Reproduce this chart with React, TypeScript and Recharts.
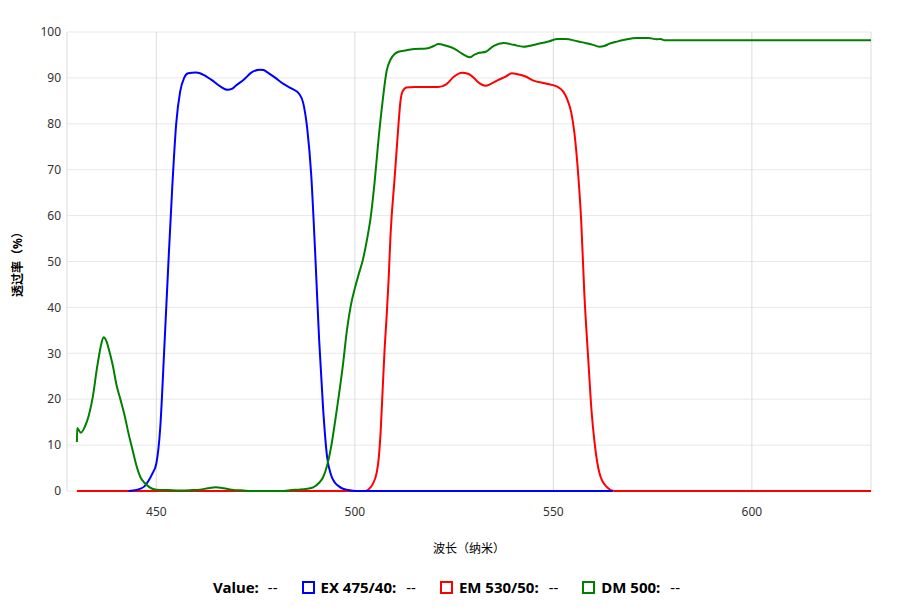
import React from 'react';
import {
  LineChart,
  Line,
  XAxis,
  YAxis,
  CartesianGrid,
  Legend,
} from 'recharts';

// ============================================================================
// Data (wavelength in nm, transmission in %)
// ============================================================================

const X_TICKS = [450, 500, 550, 600];
const Y_TICKS = [0, 10, 20, 30, 40, 50, 60, 70, 80, 90, 100];

const EX_WAVELENGTH = [
  443, 445, 446, 447, 448, 449, 450, 451, 452, 453, 454, 455, 456, 457, 458,
  460, 461, 462, 464, 466, 468, 469, 470, 472, 474, 476, 477, 478, 480, 482,
  484, 486, 487, 488, 489, 490, 491, 492, 493, 494, 495, 496, 497, 498, 499,
  500, 565,
];
const EX_VALUES = [
  0, 0.2, 0.5, 1, 2.2, 3.8, 6, 14, 31, 49, 66, 80, 87, 90, 91,
  91.2, 91, 90.6, 89.5, 88.2, 87.4, 87.6, 88.3, 89.6, 91.2, 91.8, 91.7, 91.2, 90, 88.7,
  87.7, 86.5, 84.5, 79, 69, 52, 33, 18, 7.5, 3.5, 1.8, 1, 0.5, 0.3, 0.1,
  0, 0,
];

const EM_WAVELENGTH = [
  430, 502.5, 503.5, 504.5, 505.5, 506, 506.5, 507, 507.5, 508, 508.5, 509, 510,
  510.5, 511, 511.5, 512, 513, 515, 518, 521, 523, 525, 527, 528.5, 530, 531,
  533, 534, 536, 538, 539.5, 541, 543, 545, 548, 551, 552.5, 553.5, 554.5,
  555.3, 556.3, 557, 557.8, 558.8, 559.6, 560.4, 561.6, 563.3, 565.4, 630,
];
const EM_VALUES = [
  0, 0, 0.4, 1.5, 4, 7, 13, 22, 31, 38, 46, 56, 68,
  74, 80, 85, 87, 87.9, 88, 88, 88, 88.6, 90.3, 91.1, 90.9, 90, 89.1,
  88.3, 88.6, 89.5, 90.3, 91, 90.8, 90.3, 89.4, 88.8, 88.1, 87, 85.3, 82.5,
  78, 68.4, 59, 43, 28.5, 17.6, 10.4, 3.9, 1, 0, 0,
];

const DM_WAVELENGTH = [
  430, 430.05, 431, 432, 433, 434, 435, 436, 436.7, 437.5, 438, 439, 440, 441,
  442, 443, 444, 445, 446, 447, 448, 449, 450, 453, 456, 459, 461, 463, 465,
  467, 469, 472, 474, 482, 484, 486, 488, 489.5, 491, 492, 493, 494, 495, 496,
  497, 498, 499, 500, 501, 502, 503, 504, 505, 506, 507, 508, 509, 510, 511,
  513, 515, 518, 520, 521, 523, 525, 527, 529, 530, 531, 533, 535, 537.5, 540,
  542.5, 546, 549, 551, 553, 556, 558, 560, 561.5, 563, 564, 566, 568, 571,
  574, 576, 577, 578, 630,
];
const DM_VALUES = [
  10.7, 13.7, 12.7, 14, 16.5, 20.5, 26.5, 31.5, 33.5, 32.5, 31, 27.5, 23, 19.8,
  16.5, 12.5, 9, 5.5, 3, 1.8, 1, 0.5, 0.3, 0.2, 0.1, 0.2, 0.3, 0.6, 0.8,
  0.6, 0.3, 0.1, 0, 0, 0.2, 0.3, 0.5, 0.8, 1.8, 3, 5.5, 9.5, 15, 21,
  27.5, 35, 40.5, 44.2, 47.3, 50.3, 54.5, 59.7, 67.5, 77, 85, 91.5, 94, 95.2, 95.7,
  96, 96.3, 96.4, 97, 97.4, 97, 96.4, 95.3, 94.5, 95, 95.4, 95.7, 97, 97.6, 97.2,
  96.8, 97.4, 98, 98.5, 98.5, 98, 97.6, 97.2, 96.8, 97, 97.4, 97.9, 98.3, 98.7,
  98.7, 98.4, 98.5, 98.2, 98.2,
];

// ============================================================================
// Series
// ============================================================================

const toPoints = (xs: number[], ys: number[]) =>
  xs.map((x, i) => ({ x, y: ys[i] }));

const SERIES = [
  { name: 'EX 475/40', color: '#0000ff', data: toPoints(EX_WAVELENGTH, EX_VALUES) },
  { name: 'EM 530/50', color: '#ff0000', data: toPoints(EM_WAVELENGTH, EM_VALUES) },
  { name: 'DM 500', color: '#008000', data: toPoints(DM_WAVELENGTH, DM_VALUES) },
];

// draw order: red under blue, green on top
const DRAW_ORDER = [1, 0, 2];

const FONT = "'Noto Sans', 'Noto Sans CJK SC', sans-serif";

const renderLegend = () => (
  <div
    style={{
      display: 'flex',
      alignItems: 'center',
      justifyContent: 'center',
      height: 24,
      paddingLeft: 22,
      fontFamily: FONT,
      fontSize: 15,
      fontWeight: 'bold',
      color: '#000',
    }}
  >
    <span>Value:</span>
    <span style={{ marginLeft: 9, fontWeight: 'normal' }}>--</span>
    {SERIES.map((s) => (
      <span
        key={s.name}
        style={{ display: 'flex', alignItems: 'center', marginLeft: 24 }}
      >
        <span
          style={{
            display: 'inline-block',
            width: 9,
            height: 9,
            border: `2px solid ${s.color}`,
          }}
        />
        <span style={{ marginLeft: 6 }}>{s.name}:</span>
        <span style={{ marginLeft: 10, fontWeight: 'normal' }}>--</span>
      </span>
    ))}
  </div>
);

export default function App() {
  return (
    <div style={{ position: 'absolute', left: 0, top: 0, width: 899, height: 616, background: '#fff' }}>
      <LineChart
        width={899}
        height={616}
        margin={{ top: 32, right: 28, left: 0, bottom: 17 }}
      >
        <CartesianGrid horizontal vertical={false} stroke="#e8e8e8" />
        <CartesianGrid horizontal={false} vertical stroke="#dcdcdc" />
        <XAxis
          type="number"
          dataKey="x"
          domain={[427.5, 630]}
          ticks={X_TICKS}
          allowDataOverflow
          axisLine={false}
          tickLine={false}
          tickSize={6}
          tickMargin={10}
          height={84}
          tick={{ fontSize: 12, fill: '#333', fontFamily: FONT }}
          label={{
            value: '波长（纳米）',
            position: 'insideBottom',
            offset: 22,
            style: { fontSize: 12, fill: '#000', fontFamily: FONT },
          }}
        />
        <YAxis
          type="number"
          domain={[0, 100]}
          ticks={Y_TICKS}
          axisLine={false}
          tickLine={false}
          tickSize={6}
          tickMargin={0}
          width={67}
          tick={{ fontSize: 12, fill: '#333', fontFamily: FONT }}
          label={{
            value: '透过率（%）',
            angle: -90,
            position: 'insideLeft',
            offset: 18,
            style: {
              textAnchor: 'middle',
              fontSize: 12,
              fontWeight: 'bold',
              fill: '#000',
              fontFamily: FONT,
            },
          }}
        />
        <Legend verticalAlign="bottom" align="center" content={renderLegend} />
        {DRAW_ORDER.map((i) => {
          const s = SERIES[i];
          return (
            <Line
              key={s.name}
              data={s.data}
              dataKey="y"
              name={s.name}
              type="monotone"
              stroke={s.color}
              strokeWidth={2}
              dot={false}
              activeDot={false}
              isAnimationActive={false}
            />
          );
        })}
      </LineChart>
    </div>
  );
}
